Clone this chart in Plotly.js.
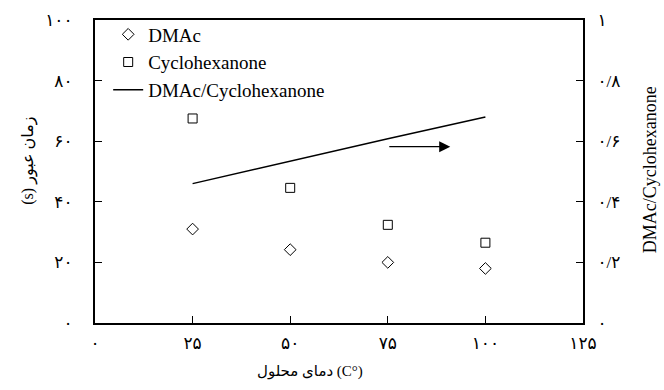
<!DOCTYPE html>
<html>
<head>
<meta charset="utf-8">
<script src="https://cdn.plot.ly/plotly-3.0.1.min.js"></script>
<style>html,body{margin:0;padding:0;background:#fff;}#chart{width:664px;height:390px;}</style>
</head>
<body>
<div id="chart"></div>
<script>
// Data
const temperature = [25, 50, 75, 100];
const dmacTime = [31, 24.2, 20, 18];
const cycloTime = [67.5, 44.6, 32.4, 26.5];
const ratio = [0.46, 0.535, 0.608, 0.68];

const xTickVals = [0, 25, 50, 75, 100, 125];
const xTickText = ['۰', '۲۵', '۵۰', '۷۵', '۱۰۰', '۱۲۵'];
const yTickVals = [0, 20, 40, 60, 80, 100];
const yTickText = ['۰', '۲۰', '۴۰', '۶۰', '۸۰', '۱۰۰'];
const y2TickVals = [0, 0.2, 0.4, 0.6, 0.8, 1];
const y2TickText = ['۰', '۰/۲', '۰/۴', '۰/۶', '۰/۸', '۱'];

const FONT = 'Liberation Serif, Times New Roman, DejaVu Sans, serif';

const traces = [
  {x: temperature, y: dmacTime, name: 'DMAc', type: 'scatter', mode: 'markers',
   marker: {symbol: 'diamond-open', size: 9, color: '#000', line: {width: 1, color: '#000'}}},
  {x: temperature, y: cycloTime, name: 'Cyclohexanone', type: 'scatter', mode: 'markers',
   marker: {symbol: 'square-open', size: 9, color: '#000', line: {width: 1, color: '#000'}}},
  {x: temperature, y: ratio, name: 'DMAc/Cyclohexanone', type: 'scatter', mode: 'lines',
   yaxis: 'y2', line: {color: '#000', width: 1.5}}
];

const layout = {
  width: 664, height: 390,
  margin: {l: 95, r: 81, t: 20, b: 67},
  paper_bgcolor: '#fff', plot_bgcolor: '#fff',
  font: {family: FONT, color: '#000', size: 16},
  showlegend: true,
  legend: {x: 0.027, y: 1.015, xanchor: 'left', yanchor: 'top', bgcolor: 'rgba(0,0,0,0)',
           font: {family: FONT, size: 19, color: '#000'}, tracegroupgap: 0},
  xaxis: {range: [0, 125], tickvals: xTickVals, ticktext: xTickText,
          ticks: 'inside', ticklen: 7, tickwidth: 1, tickcolor: '#000',
          showline: true, linewidth: 2, linecolor: '#000', mirror: true,
          showgrid: false, zeroline: false, ticklabelstandoff: 4,
          tickfont: {size: 17, family: FONT}},
  yaxis: {range: [0, 100], tickvals: yTickVals, ticktext: yTickText,
          ticks: 'inside', ticklen: 7, tickwidth: 1, tickcolor: '#000',
          showline: true, linewidth: 2, linecolor: '#000',
          showgrid: false, zeroline: false, ticklabelstandoff: 17,
          tickfont: {size: 17, family: FONT}},
  yaxis2: {range: [0, 1], tickvals: y2TickVals, ticktext: y2TickText, overlaying: 'y', side: 'right',
           ticks: 'inside', ticklen: 7, tickwidth: 1, tickcolor: '#000',
           showline: true, linewidth: 2, linecolor: '#000',
           showgrid: false, zeroline: false, ticklabelstandoff: 9,
           tickfont: {size: 17, family: FONT}},
  annotations: [
    {x: 91, y: 58.2, ax: 75, ay: 58.2, xref: 'x', yref: 'y', axref: 'x', ayref: 'y',
     showarrow: true, arrowhead: 2, arrowsize: 1.7, arrowwidth: 1.3, arrowcolor: '#000', text: ''},
    {text: '\u200Eدمای محلول (C°)', xref: 'paper', yref: 'paper', x: 0.44, y: -0.161,
     xanchor: 'center', yanchor: 'middle', showarrow: false, font: {size: 15, family: FONT}},
    {text: '(s) زمان عبور', xref: 'paper', yref: 'paper', x: -0.137, y: 0.536,
     xanchor: 'center', yanchor: 'middle', textangle: -90, showarrow: false, font: {size: 16, family: FONT}},
    {text: 'DMAc/Cyclohexanone', xref: 'paper', yref: 'paper', x: 1.139, y: 0.507,
     xanchor: 'center', yanchor: 'middle', textangle: -90, showarrow: false, font: {size: 18, family: FONT}}
  ]
};

Plotly.newPlot('chart', traces, layout, {displayModeBar: false, staticPlot: true});
</script>
</body>
</html>
